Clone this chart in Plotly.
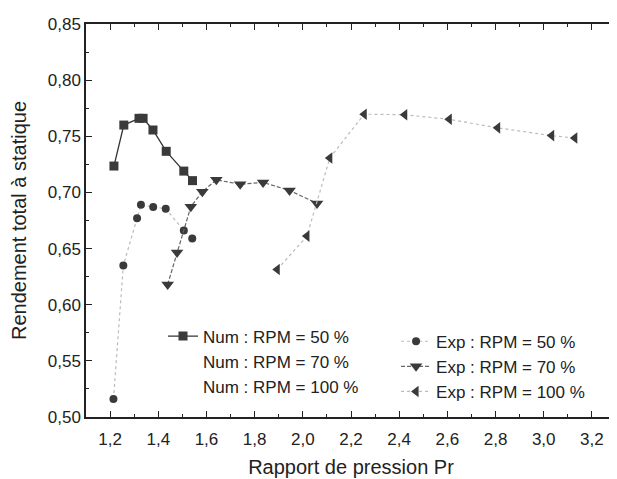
import plotly.graph_objects as go

# Numerical, RPM = 50 %
num50_x = [1.216, 1.257, 1.320, 1.337, 1.378, 1.433, 1.506, 1.542]
num50_y = [0.7235, 0.760, 0.766, 0.766, 0.7556, 0.7366, 0.719, 0.7105]

# Experimental, RPM = 50 %
exp50_x = [1.214, 1.255, 1.312, 1.328, 1.379, 1.431, 1.506, 1.541]
exp50_y = [0.516, 0.635, 0.677, 0.689, 0.687, 0.6855, 0.666, 0.659]

# Experimental, RPM = 70 %
exp70_x = [1.439, 1.478, 1.535, 1.583, 1.641, 1.740, 1.835, 1.945, 2.059]
exp70_y = [0.618, 0.6466, 0.6872, 0.7007, 0.7112, 0.7073, 0.7089, 0.7018, 0.6902]

# Experimental, RPM = 100 %
exp100_x = [1.894, 2.017, 2.112, 2.255, 2.423, 2.608, 2.809, 3.033, 3.129]
exp100_y = [0.6314, 0.6611, 0.7307, 0.7697, 0.7692, 0.7651, 0.7575, 0.7506, 0.7484]

x_ticks = [1.2, 1.4, 1.6, 1.8, 2.0, 2.2, 2.4, 2.6, 2.8, 3.0, 3.2]
y_ticks = [0.50, 0.55, 0.60, 0.65, 0.70, 0.75, 0.80, 0.85]

FONT = "Liberation Sans, Arial, sans-serif"
DARK = "#333333"

fig = go.Figure()

fig.add_trace(go.Scatter(
    x=num50_x, y=num50_y, mode="lines+markers", name="Num : RPM = 50 %",
    line=dict(color=DARK, width=1.3),
    marker=dict(symbol="square", size=9, color="#3a3a3a"),
    legend="legend"))
fig.add_trace(go.Scatter(
    x=[None], y=[None], mode="lines", name="Num : RPM = 70 %",
    line=dict(color="rgba(0,0,0,0)", width=1), legend="legend"))
fig.add_trace(go.Scatter(
    x=[None], y=[None], mode="lines", name="Num : RPM = 100 %",
    line=dict(color="rgba(0,0,0,0)", width=1), legend="legend"))

fig.add_trace(go.Scatter(
    x=exp50_x, y=exp50_y, mode="lines+markers", name="Exp : RPM = 50 %",
    line=dict(color="#bbbbbb", width=1.2, dash="dot"),
    marker=dict(symbol="circle", size=8, color="#3a3a3a"),
    legend="legend2"))
fig.add_trace(go.Scatter(
    x=exp70_x, y=exp70_y, mode="lines+markers", name="Exp : RPM = 70 %",
    line=dict(color="#666666", width=1.2, dash="4px,2px"),
    marker=dict(symbol="triangle-down", size=11, color="#3a3a3a"),
    legend="legend2"))
fig.add_trace(go.Scatter(
    x=exp100_x, y=exp100_y, mode="lines+markers", name="Exp : RPM = 100 %",
    line=dict(color="#bbbbbb", width=1.2, dash="dot"),
    marker=dict(symbol="triangle-left", size=10, color="#3a3a3a"),
    legend="legend2"))

axis_common = dict(
    showgrid=False, zeroline=False, showline=True, linecolor="#222222",
    linewidth=1.5, mirror="ticks", ticks="inside", ticklen=6,
    tickwidth=1.3, tickcolor="#222222", automargin=False,
    tickfont=dict(family=FONT, size=17, color="#222222"),
)

fig.update_xaxes(
    range=[1.1, 3.3], tickvals=x_ticks, tickformat=".1f",
    ticklabelstandoff=6,
    minor=dict(ticks="inside", ticklen=3, dtick=0.1, tickcolor="#222222", tickwidth=1.2),
    title=dict(text="Rapport de pression Pr", font=dict(family=FONT, size=20, color="#222222"), standoff=12),
    **axis_common)
fig.update_yaxes(
    range=[0.50, 0.85], tickvals=y_ticks, tickformat=".2f",
    minor=dict(ticks="inside", ticklen=3, dtick=0.025, tickcolor="#222222", tickwidth=1.2),
    title=dict(text="Rendement total à statique", font=dict(family=FONT, size=20, color="#222222"), standoff=19),
    **axis_common)

legend_common = dict(
    bgcolor="rgba(0,0,0,0)", borderwidth=0, yanchor="top", xanchor="left",
    font=dict(family=FONT, size=17, color="#222222"), tracegroupgap=0,
)

# page body has an 8px margin, so the figure is sized to fit the window
fig.update_layout(
    width=609, height=471,
    margin=dict(l=78, r=1, t=16, b=62),
    paper_bgcolor="white", plot_bgcolor="white",
    separators=", ",
    showlegend=True,
    legend=dict(x=0.1453, y=0.2506, **legend_common),
    legend2=dict(x=0.585, y=0.2374, **legend_common),
)

fig.write_html("out.html")
